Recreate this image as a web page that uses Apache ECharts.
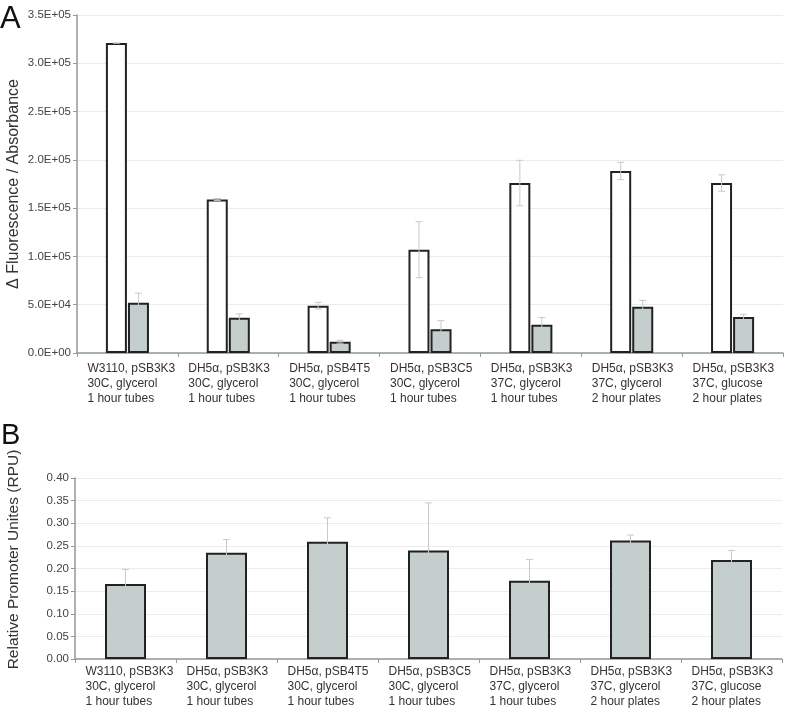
<!DOCTYPE html>
<html>
<head>
<meta charset="utf-8">
<script src="https://cdn.jsdelivr.net/npm/echarts@6/dist/echarts.min.js"></script>
<style>html,body{margin:0;padding:0;background:#fff}#c{width:785px;height:709px}</style>
</head>
<body>
<div id="c"></div>
<script>
// ---- data ----
var strainLine = ["W3110, pSB3K3", "DH5α, pSB3K3", "DH5α, pSB4T5", "DH5α, pSB3C5", "DH5α, pSB3K3", "DH5α, pSB3K3", "DH5α, pSB3K3"];
var condLine = ["30C, glycerol", "30C, glycerol", "30C, glycerol", "30C, glycerol", "37C, glycerol", "37C, glycerol", "37C, glucose"];
var timeLine = ["1 hour tubes", "1 hour tubes", "1 hour tubes", "1 hour tubes", "1 hour tubes", "2 hour plates", "2 hour plates"];
var categories = strainLine.map(function (s, i) { return s + "\n" + condLine[i] + "\n" + timeLine[i]; });

var fluorWhite = [321000, 159000, 49000, 107000, 176000, 188500, 176000];
var fluorWhiteErr = [0, 1000, 3500, 29000, 23500, 9000, 8500];
var fluorGray = [52000, 36500, 11700, 24500, 29300, 48000, 37300];
var fluorGrayErr = [10000, 4000, 1500, 9000, 7500, 6500, 2800];

var rpu = [0.166, 0.235, 0.259, 0.240, 0.173, 0.262, 0.219];
var rpuErr = [0.032, 0.029, 0.053, 0.105, 0.047, 0.012, 0.021];

var topTitleY = "\u0394 Fluorescence / Absorbance";
var bottomTitleY = "Relative Promoter Unites (RPU)";

// ---- helpers ----
function sci(v) {
  if (v === 0) return "0.0E+00";
  var e = Math.floor(Math.log10(Math.abs(v)) + 1e-9);
  var m = v / Math.pow(10, e);
  return m.toFixed(1) + "E+" + (e < 10 ? "0" + e : e);
}
function errRender(offset) {
  return function (params, api) {
    var x = api.value(0), v = api.value(1), e = api.value(2);
    var t = api.coord([x, v + e]);
    var b = api.coord([x, v - e]);
    var px = t[0] + offset, cap = 3.5;
    var st = { stroke: "#c9c9c9", lineWidth: 1 };
    return {
      type: "group",
      children: [
        { type: "line", shape: { x1: px, y1: t[1], x2: px, y2: b[1] }, style: st },
        { type: "line", shape: { x1: px - cap, y1: t[1], x2: px + cap, y2: t[1] }, style: st },
        { type: "line", shape: { x1: px - cap, y1: b[1], x2: px + cap, y2: b[1] }, style: st }
      ]
    };
  };
}
function errData(vals, errs) {
  return vals.map(function (v, i) { return [i, v, errs[i]]; });
}
var axisColor = "#8f9b9b";
function catLabel(margin) {
  return {
    interval: 0,
    margin: margin,
    padding: [0, 0, 0, 6],
    formatter: function (val) {
      return val.split("\n").map(function (l) { return "{a|" + l + "}"; }).join("\n");
    },
    rich: { a: { width: 86, align: "left", fontSize: 12, lineHeight: 15, color: "#333", fontFamily: "Liberation Sans, Arial, sans-serif" } }
  };
}

var chart = echarts.init(document.getElementById("c"), null, { renderer: "canvas" });
chart.setOption({
  animation: false,
  backgroundColor: "#fff",
  textStyle: { fontFamily: "Liberation Sans, Arial, sans-serif" },
  graphic: [
    { type: "text", left: 0, top: 4, style: { text: "A", fontSize: 31, fill: "#111", fontFamily: "Liberation Sans, Arial, sans-serif" } },
    { type: "text", left: 1, top: 421, style: { text: "B", fontSize: 29, fill: "#111", fontFamily: "Liberation Sans, Arial, sans-serif" } }
  ],
  grid: [
    { left: 77, right: 2, top: 15, bottom: 356, containLabel: false, outerBoundsMode: "none" },
    { left: 75, right: 3, top: 478, bottom: 50, containLabel: false, outerBoundsMode: "none" }
  ],
  xAxis: [
    { type: "category", gridIndex: 0, data: categories,
      axisLine: { lineStyle: { color: axisColor, width: 1.5 } },
      axisTick: { show: true, length: 4, lineStyle: { color: axisColor } },
      axisLabel: catLabel(8) },
    { type: "category", gridIndex: 1, data: categories,
      axisLine: { lineStyle: { color: axisColor, width: 1.5 } },
      axisTick: { show: true, length: 4, lineStyle: { color: axisColor } },
      axisLabel: catLabel(5) }
  ],
  yAxis: [
    { type: "value", gridIndex: 0, min: 0, max: 350000, interval: 50000,
      name: topTitleY, nameLocation: "middle", nameGap: 55, nameRotate: 90, nameMoveOverlap: false,
      nameTextStyle: { fontSize: 16, color: "#333" },
      axisLine: { show: true, lineStyle: { color: axisColor, width: 1.5 } },
      axisTick: { show: true, length: 4, lineStyle: { color: axisColor } },
      axisLabel: { fontSize: 11.5, color: "#444", margin: 6, formatter: sci },
      splitLine: { lineStyle: { color: "#ececec" } } },
    { type: "value", gridIndex: 1, min: 0, max: 0.4, interval: 0.05,
      name: bottomTitleY, nameLocation: "middle", nameGap: 53, nameRotate: 90, nameMoveOverlap: false,
      nameTextStyle: { fontSize: 15.5, color: "#333", padding: [0, 0, 0, 18] },
      axisLine: { show: true, lineStyle: { color: axisColor, width: 1.5 } },
      axisTick: { show: true, length: 4, lineStyle: { color: axisColor } },
      axisLabel: { fontSize: 11.5, color: "#444", margin: 6, formatter: function (v) { return v.toFixed(2); } },
      splitLine: { lineStyle: { color: "#ececec" } } }
  ],
  series: [
    { type: "bar", xAxisIndex: 0, yAxisIndex: 0, data: fluorWhite, barWidth: 21, barGap: "5%",
      itemStyle: { color: "#ffffff", borderColor: "#222", borderWidth: 2 } },
    { type: "bar", xAxisIndex: 0, yAxisIndex: 0, data: fluorGray, barWidth: 21, barGap: "5%",
      itemStyle: { color: "#c4cecd", borderColor: "#222", borderWidth: 2 } },
    { type: "custom", xAxisIndex: 0, yAxisIndex: 0, renderItem: errRender(-11), data: errData(fluorWhite, fluorWhiteErr), z: 10 },
    { type: "custom", xAxisIndex: 0, yAxisIndex: 0, renderItem: errRender(11), data: errData(fluorGray, fluorGrayErr), z: 10 },
    { type: "bar", xAxisIndex: 1, yAxisIndex: 1, data: rpu, barWidth: 41,
      itemStyle: { color: "#c4cecd", borderColor: "#222", borderWidth: 2 } },
    { type: "custom", xAxisIndex: 1, yAxisIndex: 1, renderItem: errRender(0), data: errData(rpu, rpuErr), z: 10 }
  ]
});
</script>
</body>
</html>
